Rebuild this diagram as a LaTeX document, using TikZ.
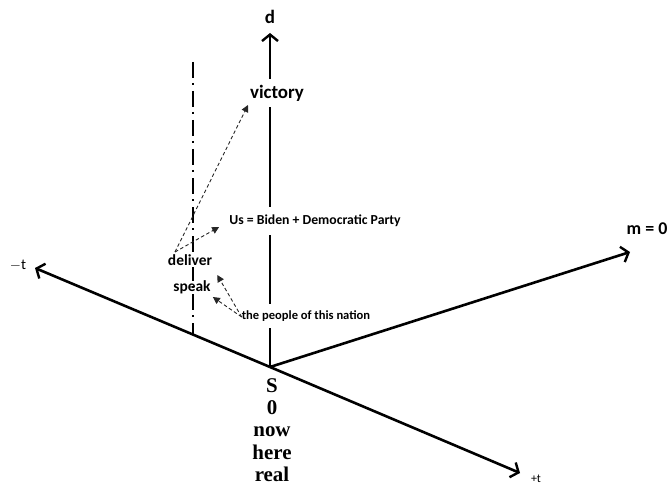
\documentclass[tikz,border=0pt]{standalone}
\usepackage{fontspec}
\setmainfont{Carlito}
\newfontfamily\timesbold[BoldFont={Liberation Serif Bold}]{Liberation Serif}
\usetikzlibrary{arrows.meta,calc}
\begin{document}
\begin{tikzpicture}[x=1bp,y=-1bp,
  axis/.style={line width=2.6bp,
    -{Straight Barb[length=6.5bp,width=16bp,line width=2.4bp]}},
  hint/.style={line width=0.9bp, black!85, dash pattern=on 3.5bp off 2.5bp,
    -{Triangle[length=7bp,width=7bp]}},
  lbl/.style={inner xsep=1bp, inner ysep=2bp},
  gap/.style={lbl, fill=white},
]
\useasboundingbox (0,0) rectangle (669,486);

% origin and axis ends
\coordinate (o) at (270,367);
\coordinate (dtip) at (270,33);
\coordinate (tminus) at (35,268);
\coordinate (tplus) at (520,473);
\coordinate (mtip) at (630,252);
\coordinate (ddtop) at (193,62);
\coordinate (ddbot) at (193,334.6);

% dash-dot reference line
\draw[line width=2bp, dash pattern=on 16bp off 5bp on 2bp off 6bp] (ddtop) -- (ddbot);

% axes
\draw[axis] (o) -- (dtip);
\draw[axis] (o) -- (tminus);
\draw[axis] (o) -- (tplus);
\draw[axis] (o) -- (mtip);

% labels
\node[lbl, font=\bfseries\fontsize{19}{22}\selectfont] (d) at (270,17) {d};
\node[gap, inner ysep=6bp, font=\bfseries\fontsize{19}{22}\selectfont] (victory) at (277,93) {victory};
\node[gap, inner ysep=8bp, font=\bfseries\fontsize{13.8}{16}\selectfont] (usbd) at (315,221) {Us = Biden + Democratic Party};
\node[gap, inner ysep=7bp, font=\bfseries\fontsize{12.6}{15}\selectfont] (people) at (306,316) {the people of this nation};
\node[gap, font=\bfseries\fontsize{15.5}{18}\selectfont] (deliver) at (190,260) {deliver};
\node[lbl, font=\bfseries\fontsize{15.5}{18}\selectfont] (speak) at (192,287) {speak};
\node[lbl, font=\bfseries\fontsize{18}{21}\selectfont] (m0) at (647,229) {m = 0};
\node[lbl, font=\fontsize{15}{17}\selectfont] (tm) at (18,265) {$-$t};
\node[lbl, font=\fontsize{12}{14}\selectfont] (tp) at (536,479) {+t};
\node[lbl, align=center, font=\timesbold\bfseries\fontsize{21}{22.5}\selectfont,
  anchor=north] (s) at (272,376) {S\\0\\now\\here\\real};

% pointers between the words
\draw[hint] ($(deliver.center)+(-15,-8)$) -- ($(victory.center)+(-29,12)$);
\draw[hint] ($(deliver.center)+(-15,-8)$) -- ($(usbd.west)+(-9,6)$);
\draw[hint] ($(people.west)+(1,1)$) -- ($(deliver.east)+(4,15)$);
\draw[hint] ($(people.west)+(1,1)$) -- ($(speak.east)+(1,10)$);
\end{tikzpicture}
\end{document}
